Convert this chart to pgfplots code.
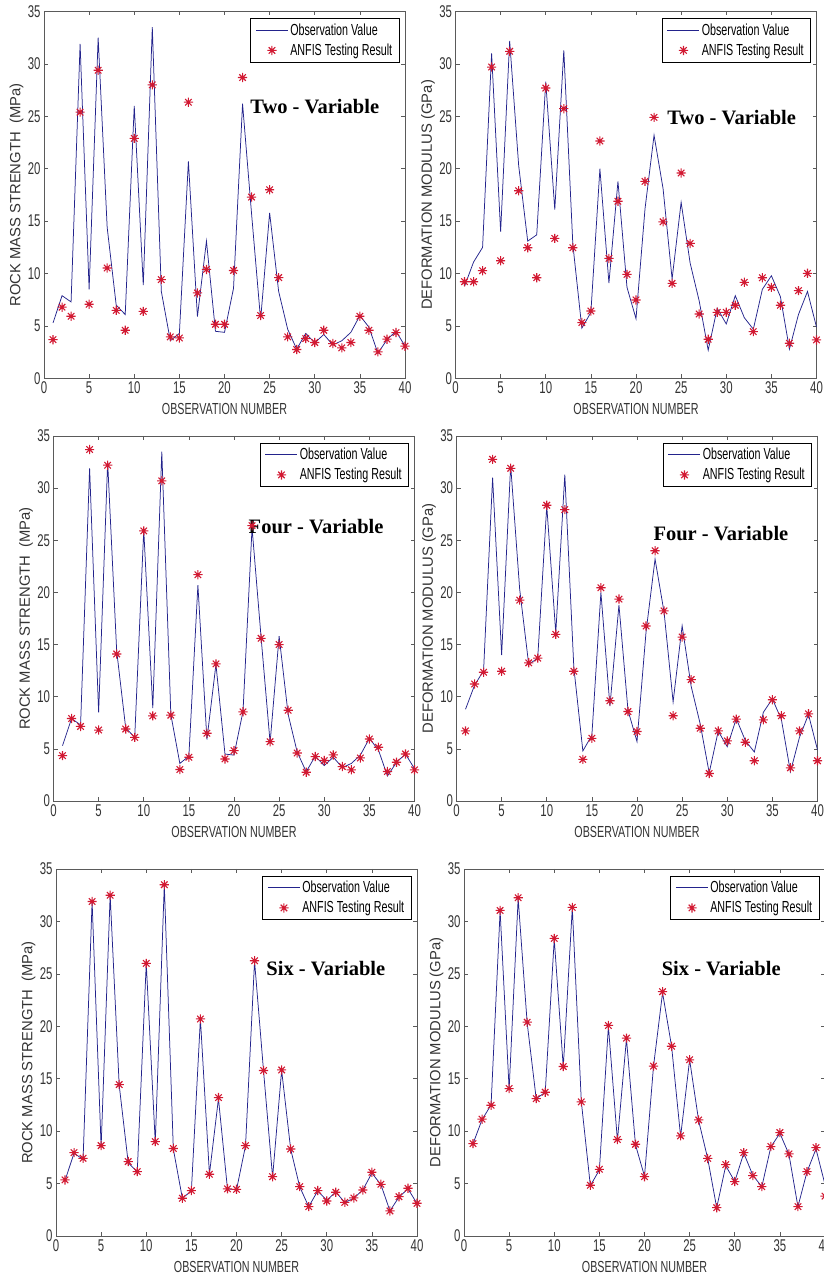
\documentclass[border=0pt]{standalone}
\usepackage{fontspec}
\setmainfont{Liberation Sans}[FakeStretch=0.67]
\newfontfamily\vfont{Liberation Sans}
\newfontfamily\tfont{Liberation Serif}
\usepackage{pgfplots}
\pgfplotsset{compat=1.18}
\usepackage{pgfplotstable}

\definecolor{obsblue}{RGB}{35,35,140}
\definecolor{anfisred}{RGB}{210,25,50}
\definecolor{axgray}{RGB}{90,90,90}

\pgfdeclareplotmark{mstar}{%
 \pgfpathmoveto{\pgfqpoint{-\pgfplotmarksize}{0pt}}\pgfpathlineto{\pgfqpoint{\pgfplotmarksize}{0pt}}%
 \pgfpathmoveto{\pgfqpoint{0pt}{-\pgfplotmarksize}}\pgfpathlineto{\pgfqpoint{0pt}{\pgfplotmarksize}}%
 \pgfpathmoveto{\pgfqpoint{-0.707\pgfplotmarksize}{-0.707\pgfplotmarksize}}\pgfpathlineto{\pgfqpoint{0.707\pgfplotmarksize}{0.707\pgfplotmarksize}}%
 \pgfpathmoveto{\pgfqpoint{-0.707\pgfplotmarksize}{0.707\pgfplotmarksize}}\pgfpathlineto{\pgfqpoint{0.707\pgfplotmarksize}{-0.707\pgfplotmarksize}}%
 \pgfusepathqstroke}

\pgfplotstableread{
n obs two four six
1 5.3 3.7 4.35 5.35
2 7.9 6.8 7.91 7.95
3 7.3 5.94 7.15 7.41
4 31.9 25.4 33.7 31.9
5 8.5 7.08 6.8 8.62
6 32.5 29.4 32.2 32.5
7 14.4 10.54 14.1 14.44
8 7.0 6.5 6.9 7.1
9 6.1 4.6 6.1 6.14
10 26.0 22.9 25.9 26.0
11 8.9 6.4 8.16 9.0
12 33.5 28.0 30.7 33.5
13 8.3 9.43 8.23 8.34
14 3.6 3.97 3.02 3.6
15 4.3 3.87 4.19 4.33
16 20.7 26.35 21.7 20.7
17 5.9 8.16 6.5 5.89
18 13.1 10.4 13.15 13.2
19 4.5 5.17 4.03 4.5
20 4.4 5.17 4.83 4.45
21 8.6 10.3 8.55 8.62
22 26.2 28.7 26.4 26.25
23 15.7 17.3 15.6 15.78
24 5.6 6.0 5.69 5.66
25 15.8 18.0 15.0 15.84
26 8.3 9.62 8.7 8.3
27 4.7 3.97 4.6 4.71
28 2.8 2.76 2.76 2.8
29 4.3 3.81 4.26 4.33
30 3.4 3.43 3.88 3.34
31 4.2 4.6 4.42 4.17
32 3.2 3.33 3.3 3.21
33 3.6 2.92 2.99 3.63
34 4.4 3.43 4.13 4.39
35 6.0 5.94 5.94 6.08
36 4.9 4.6 5.15 4.93
37 2.4 2.54 2.83 2.39
38 3.7 3.75 3.72 3.75
39 4.5 4.38 4.51 4.55
40 3.1 3.08 2.99 3.12
}\rock

\pgfplotstableread{
n obs two four six
1 8.8 9.23 6.72 8.81
2 11.1 9.23 11.22 11.14
3 12.5 10.28 12.35 12.47
4 31.0 29.7 32.76 31.05
5 14.0 11.23 12.44 14.06
6 32.2 31.2 31.9 32.26
7 20.3 17.9 19.26 20.39
8 13.1 12.47 13.25 13.1
9 13.7 9.61 13.7 13.71
10 28.3 27.7 28.36 28.38
11 16.1 13.36 15.98 16.16
12 31.3 25.73 27.94 31.34
13 12.8 12.47 12.44 12.79
14 4.8 5.33 3.99 4.84
15 6.3 6.44 6.01 6.36
16 20.0 22.65 20.45 20.08
17 9.1 11.45 9.61 9.2
18 18.8 16.9 19.36 18.87
19 8.7 9.93 8.58 8.75
20 5.7 7.49 6.66 5.66
21 16.2 18.8 16.78 16.2
22 23.2 24.9 24.0 23.3
23 18.1 14.94 18.23 18.1
24 9.5 9.07 8.17 9.55
25 16.8 19.6 15.72 16.8
26 11.0 12.88 11.64 11.07
27 7.4 6.15 6.98 7.4
28 2.7 3.74 2.64 2.7
29 6.7 6.31 6.72 6.8
30 5.2 6.31 5.76 5.19
31 7.9 6.98 7.85 7.95
32 5.8 9.17 5.63 5.76
33 4.7 4.47 3.86 4.71
34 8.5 9.61 7.78 8.53
35 9.8 8.69 9.71 9.86
36 7.8 6.98 8.17 7.83
37 2.8 3.36 3.18 2.8
38 6.1 8.38 6.72 6.14
39 8.3 10.03 8.36 8.43
40 4.9 3.68 3.86 3.8
}\defm

\tikzset{ttl/.style={font=\tfont\bfseries\fontsize{20.5}{23}\selectfont}}

\pgfplotsset{
 panel/.style={
  scale only axis, width=361pt, height=367pt,
  xmin=0,xmax=40,ymin=0,ymax=35,
  xtick={0,5,...,40}, ytick={0,5,...,35},
  tick align=inside, major tick length=4pt,
  axis line style={axgray, line width=0.7pt},
  every tick/.style={axgray, line width=0.6pt},
  tick label style={font=\fontsize{17}{19}\selectfont, text=black!80},
  /pgf/number format/assume math mode=true,
  xlabel={OBSERVATION NUMBER},
  xlabel style={font=\fontsize{16}{18}\selectfont, text=black!80, at={(axis description cs:0.5,-0.084)}, anchor=center},
  ylabel style={font=\vfont\fontsize{14.8}{17}\selectfont, text=black!80, at={(axis description cs:-0.076,0.5)}, anchor=center},
  legend style={at={(rel axis cs:1,1)}, anchor=north east, xshift=-5.5pt, yshift=-7pt,
    font=\fontsize{16}{18}\selectfont, draw=black, line width=0.6pt, row sep=3pt, inner xsep=5pt, inner ysep=3pt},
  legend cell align=left,
 },
 obs/.style={color=obsblue, line width=0.75pt, no marks,
   legend image code/.code={\draw[##1] (0pt,0pt) -- (32pt,0pt);}},
 anf/.style={color=anfisred, only marks, mark=mstar, mark size=4.6pt, mark options={line width=1.1pt},
   legend image code/.code={\draw[##1] plot coordinates {(16pt,0pt)};}},
}

\begin{document}
\begin{tikzpicture}
\useasboundingbox (0pt,0pt) rectangle (824pt,1274pt);
\clip (0pt,0pt) rectangle (824pt,1274pt);

% top-left
\begin{axis}[panel, at={(44pt,895.5pt)}, anchor=south west, ylabel={ROCK MASS STRENGTH\ \ (MPa)}]
\addplot[obs] table[x=n,y=obs] {\rock};
\addplot[anf] table[x=n,y=two] {\rock};
\legend{Observation Value, ANFIS Testing Result}
\node[ttl] at (axis cs:30,25.9) {Two - Variable};
\end{axis}

% top-right
\begin{axis}[panel, at={(455.5pt,895.5pt)}, anchor=south west, ylabel={DEFORMATION MODULUS (GPa)}]
\addplot[obs] table[x=n,y=obs] {\defm};
\addplot[anf] table[x=n,y=two] {\defm};
\legend{Observation Value, ANFIS Testing Result}
\node[ttl] at (axis cs:30.6,24.9) {Two - Variable};
\end{axis}

% middle-left
\begin{axis}[panel, height=365pt, at={(53.5pt,473pt)}, anchor=south west, ylabel={ROCK MASS STRENGTH\ \ (MPa)}]
\addplot[obs] table[x=n,y=obs] {\rock};
\addplot[anf] table[x=n,y=four] {\rock};
\legend{Observation Value, ANFIS Testing Result}
\node[ttl] at (axis cs:29.1,26.3) {Four - Variable};
\end{axis}

% middle-right
\begin{axis}[panel, height=365pt, at={(456.5pt,473pt)}, anchor=south west, ylabel={DEFORMATION MODULUS (GPa)}]
\addplot[obs] table[x=n,y=obs] {\defm};
\addplot[anf] table[x=n,y=four] {\defm};
\legend{Observation Value, ANFIS Testing Result}
\node[ttl] at (axis cs:29.3,25.6) {Four - Variable};
\end{axis}

% bottom-left
\begin{axis}[panel, at={(56pt,38pt)}, anchor=south west, ylabel={ROCK MASS STRENGTH\ \ (MPa)}]
\addplot[obs] table[x=n,y=obs] {\rock};
\addplot[anf] table[x=n,y=six] {\rock};
\legend{Observation Value, ANFIS Testing Result}
\node[ttl] at (axis cs:29.9,25.5) {Six - Variable};
\end{axis}

% bottom-right
\begin{axis}[panel, at={(464pt,38pt)}, anchor=south west, ylabel={DEFORMATION MODULUS (GPa)}]
\addplot[obs] table[x=n,y=obs] {\defm};
\addplot[anf] table[x=n,y=six] {\defm};
\legend{Observation Value, ANFIS Testing Result}
\node[ttl] at (axis cs:28.5,25.5) {Six - Variable};
\end{axis}
\end{tikzpicture}
\end{document}
